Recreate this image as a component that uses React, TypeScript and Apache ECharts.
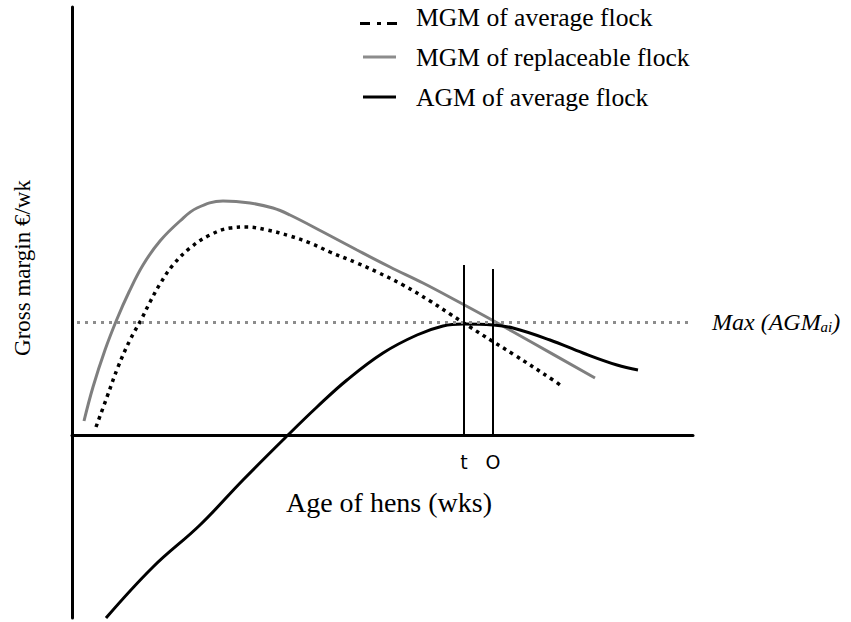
import React, { useEffect, useRef } from "react";
import * as echarts from "echarts";

// Curves: [age (arbitrary units), gross margin (arbitrary units)]
const mgmReplaceable: [number, number][] = [
  [12, 14], [21, 48], [33, 85], [45, 116], [57, 143], [71, 170], [88, 194],
  [108, 214], [125, 227], [151, 234], [178, 232], [201, 227], [218, 220],
  [251, 203], [285, 185], [318, 168], [351, 152], [385, 134], [420, 115],
  [461, 92], [523, 57],
];
const mgmAverage: [number, number][] = [
  [24, 8], [35, 38], [46, 68], [58, 95], [69, 115], [78, 133], [88, 151],
  [101, 170], [118, 187], [138, 200], [158, 207], [175, 208], [195, 205],
  [218, 199], [238, 192], [258, 183], [285, 172], [305, 163], [331, 150],
  [358, 134], [378, 121], [398, 108], [420, 94], [441, 81], [481, 55], [488, 50],
];
const agmAverage: [number, number][] = [
  [34, -183], [81, -132], [128, -90], [171, -45], [216, 0], [245, 28], [275, 55],
  [311, 82], [345, 100], [371, 109], [391, 111], [421, 110], [441, 107],
  [478, 95], [511, 82], [545, 70], [566, 65],
];
const maxAgmLevel = 113;
const maxLineRange = [5, 618];
const verticalMarks = [
  { label: "t", age: 392, top: 170 },
  { label: "O", age: 421, top: 166 },
];
const legendLabels = ["MGM of average flock", "MGM of replaceable flock", "AGM of average flock"];
const xAxisTitle = "Age of hens (wks)";
const yAxisTitle = "Gross margin €/wk";

const SERIF = '"Liberation Serif", "Times New Roman", serif';

export default function App() {
  const ref = useRef<HTMLDivElement>(null);
  useEffect(() => {
    if (!ref.current) return;
    const chart = echarts.init(ref.current, null, { renderer: "svg" });
    const legendY = [17, 57, 97];
    const option: any = {
      animation: false,
      grid: { left: 72, right: 158, top: 7, bottom: 4 },
      xAxis: {
        type: "value", min: 0, max: 621,
        axisLine: { onZero: true, lineStyle: { color: "#000", width: 3 } },
        axisTick: { show: false }, axisLabel: { show: false }, splitLine: { show: false },
      },
      yAxis: {
        type: "value", min: -183, max: 428,
        axisLine: { show: true, onZero: false, lineStyle: { color: "#000", width: 3 } },
        axisTick: { show: false }, axisLabel: { show: false }, splitLine: { show: false },
      },
      series: [
        {
          name: legendLabels[1], type: "line", data: mgmReplaceable, smooth: 0.4,
          showSymbol: false, symbol: "none",
          lineStyle: { color: "#7f7f7f", width: 3 },
        },
        {
          name: legendLabels[0], type: "line", data: mgmAverage, smooth: 0.4,
          showSymbol: false, symbol: "none",
          lineStyle: { color: "#000", width: 3.5, type: [3.5, 4.5], cap: "butt" },
        },
        {
          name: legendLabels[2], type: "line", data: agmAverage, smooth: 0.4,
          showSymbol: false, symbol: "none",
          lineStyle: { color: "#000", width: 3 },
          markLine: {
            silent: true, symbol: "none", animation: false,
            data: [
              [
                {
                  coord: [maxLineRange[0], maxAgmLevel],
                  lineStyle: { color: "#8c8c8c", width: 3, type: [3, 5] },
                  label: {
                    show: true, position: "end", distance: 22,
                    formatter: "{i|Max (AGM}{s|ai}{i|)}",
                    rich: {
                      i: { fontFamily: SERIF, fontStyle: "italic", fontSize: 24, color: "#000" },
                      s: { fontFamily: SERIF, fontStyle: "italic", fontSize: 15, color: "#000", padding: [10, 0, 0, 0] },
                    },
                  },
                },
                { coord: [maxLineRange[1], maxAgmLevel] },
              ],
              ...verticalMarks.map((m) => [
                {
                  coord: [m.age, 0],
                  lineStyle: { color: "#000", width: 2, type: "solid" },
                  label: {
                    show: true, position: "start", distance: 17, formatter: m.label,
                    fontFamily: '"DejaVu Sans", sans-serif', fontSize: 19, color: "#000",
                  },
                },
                { coord: [m.age, m.top] },
              ]),
            ],
          },
        },
      ],
      graphic: [
        // legend
        { type: "rect", shape: { x: 360, y: 22, width: 10, height: 3 }, style: { fill: "#000" } },
        { type: "rect", shape: { x: 377, y: 22, width: 4, height: 3 }, style: { fill: "#000" } },
        { type: "rect", shape: { x: 387, y: 22, width: 10, height: 3 }, style: { fill: "#000" } },
        { type: "line", shape: { x1: 363, y1: 57, x2: 396, y2: 57 }, style: { stroke: "#8c8c8c", lineWidth: 3 } },
        { type: "line", shape: { x1: 363, y1: 97, x2: 396, y2: 97 }, style: { stroke: "#000", lineWidth: 3 } },
        ...legendLabels.map((t, i) => ({
          type: "text", x: 416, y: legendY[i],
          style: { text: t, font: `25.6px ${SERIF}`, fill: "#000", textAlign: "left", textVerticalAlign: "middle" },
        })),
        {
          type: "text", x: 389, y: 502,
          style: { text: xAxisTitle, font: `28px ${SERIF}`, fill: "#000", textAlign: "center", textVerticalAlign: "middle" },
        },
        {
          type: "text", x: 22, y: 268, rotation: Math.PI / 2,
          style: { text: yAxisTitle, font: `23px ${SERIF}`, fill: "#000", textAlign: "center", textVerticalAlign: "middle" },
        },
      ],
    };
    chart.setOption(option);
    return () => chart.dispose();
  }, []);
  return (
    <div
      ref={ref}
      style={{ position: "fixed", left: 0, top: 0, width: 851, height: 622, background: "#fff" }}
    />
  );
}
